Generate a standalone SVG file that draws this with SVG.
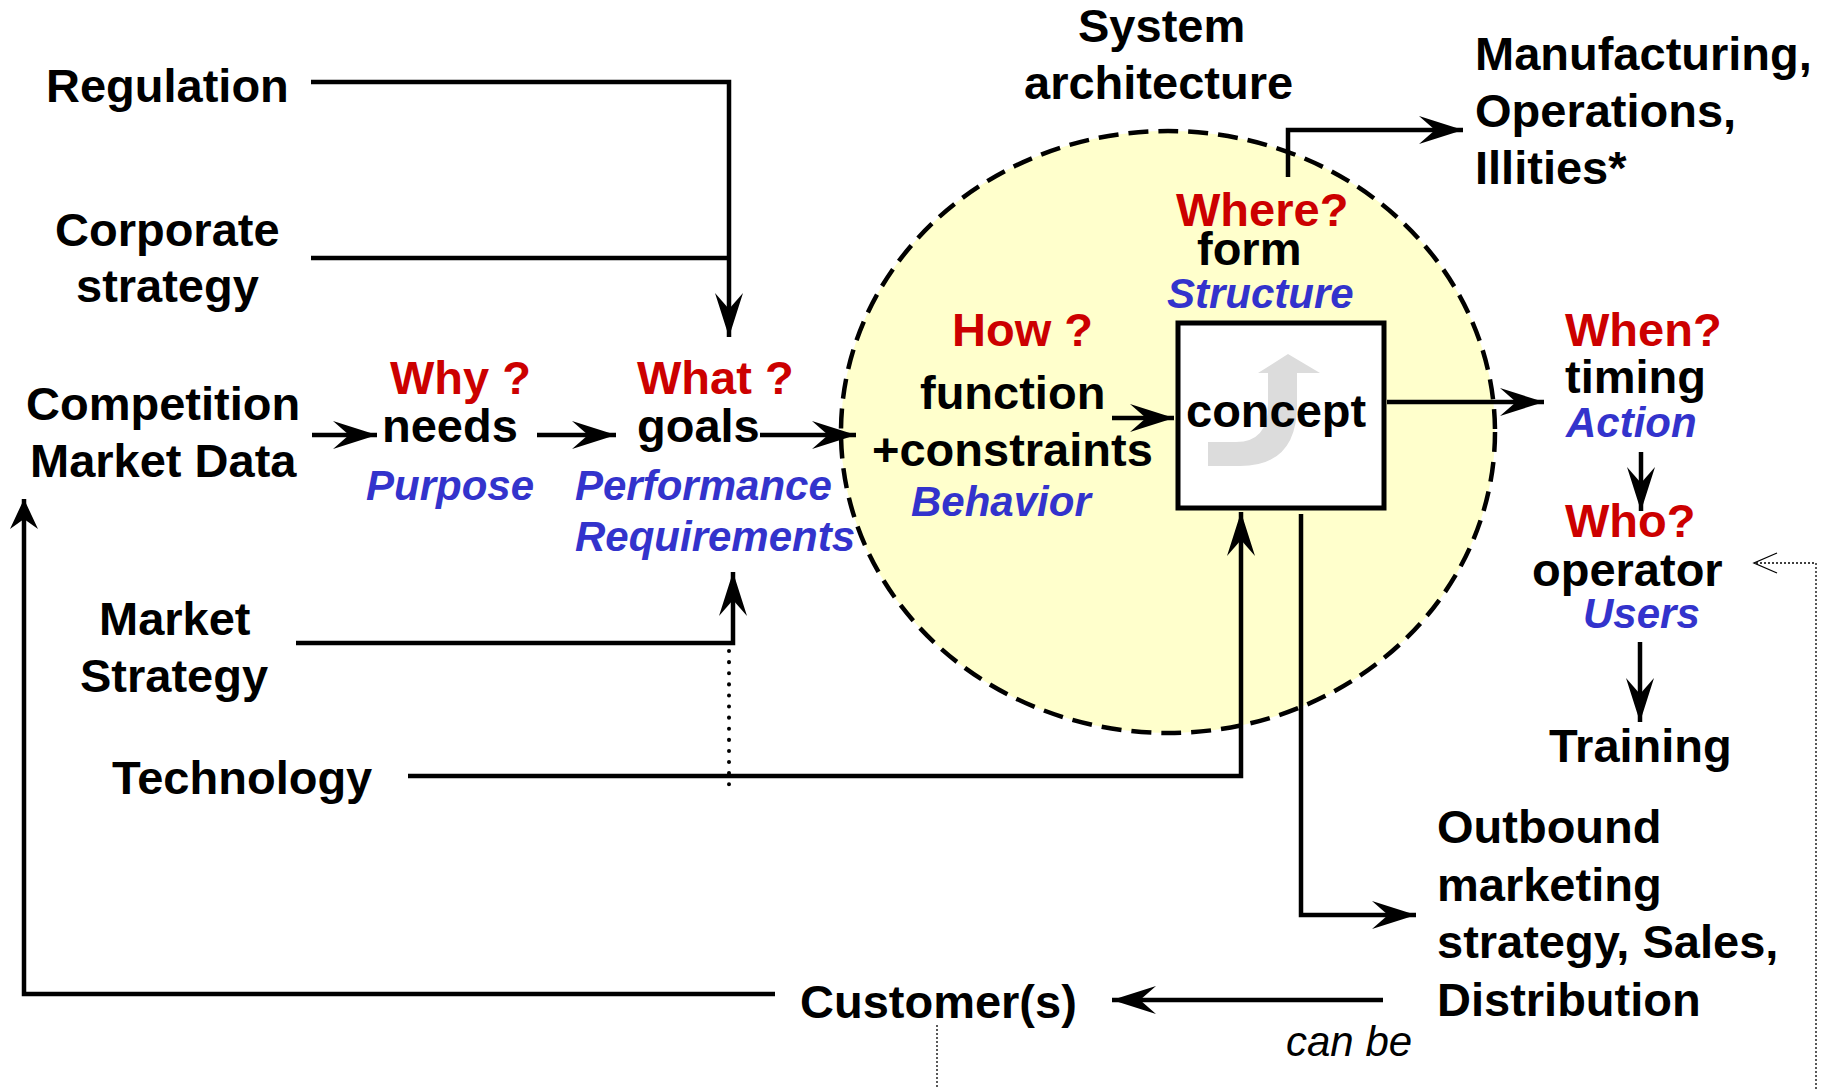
<svg xmlns="http://www.w3.org/2000/svg" width="1825" height="1089" viewBox="0 0 1825 1089">
  <style>
    text { font-family: "Liberation Sans", Arial, sans-serif; }
    .t { font-size: 47px; font-weight: bold; fill: #000; }
    .q { font-size: 47px; font-weight: bold; fill: #cc0000; }
    .b { font-size: 42px; font-weight: bold; font-style: italic; fill: #3333cc; }
    .i { font-size: 42px; font-style: italic; fill: #000; }
    .ln { fill: none; stroke: #000; stroke-width: 4.5; }
    .dot { fill: none; stroke: #000; stroke-width: 4; stroke-dasharray: 0.1 11; stroke-linecap: round; }
    .thin { fill: none; stroke: #000; stroke-width: 1.3; stroke-dasharray: 2 2; }
  </style>
  <defs>
    <marker id="arrow" markerUnits="userSpaceOnUse" markerWidth="50" markerHeight="32" viewBox="-46 -16 48 32" refX="0" refY="0" orient="auto">
      <path d="M0,0 L-44,-14 L-28,0 L-44,14 Z" fill="#000"/>
    </marker>
    <marker id="arrowShort" markerUnits="userSpaceOnUse" markerWidth="34" markerHeight="30" viewBox="-31 -15 33 30" refX="0" refY="0" orient="auto">
      <path d="M0,0 L-30,-14 L-20,0 L-30,14 Z" fill="#000"/>
    </marker>
  </defs>
  <rect width="1825" height="1089" fill="#fff"/>

  <!-- system architecture boundary -->
  <g id="system-boundary">
    <ellipse cx="1168" cy="432" rx="327" ry="301" fill="#ffffcc" stroke="#000" stroke-width="4.5" stroke-dasharray="20 10"/>
  </g>

  <!-- connectors -->
  <g id="connectors">
    <path class="ln" d="M311,82 H729 V337" marker-end="url(#arrow)"/>
    <path class="ln" d="M311,258 H729"/>
    <path class="ln" d="M312,435 H377" marker-end="url(#arrow)"/>
    <path class="ln" d="M537,435 H616" marker-end="url(#arrow)"/>
    <path class="ln" d="M760,435 H856" marker-end="url(#arrow)"/>
    <path class="ln" d="M296,643 H733 V572" marker-end="url(#arrow)"/>
    <path class="dot" d="M729,651 V787"/>
    <path class="ln" d="M408,776 H1241 V512" marker-end="url(#arrow)"/>
    <path class="ln" d="M1112,418 H1174" marker-end="url(#arrow)"/>
    <path class="ln" d="M1387,402 H1544" marker-end="url(#arrow)"/>
    <path class="ln" d="M1288,177 V130 H1463" marker-end="url(#arrow)"/>
    <path class="ln" d="M1641,452 V511" marker-end="url(#arrow)"/>
    <path class="ln" d="M1640,642 V722" marker-end="url(#arrow)"/>
    <path class="ln" d="M1301,514 V915 H1416" marker-end="url(#arrow)"/>
    <path class="ln" d="M1383,1000 H1112" marker-end="url(#arrow)"/>
    <path class="ln" d="M775,994 H24 V499" marker-end="url(#arrowShort)"/>
    <path class="thin" d="M937,1025 V1089"/>
    <path class="thin" d="M1816,1089 V563 H1754"/>
    <path d="M1777,553 L1754,563 L1777,573" fill="none" stroke="#000" stroke-width="1.3"/>
  </g>

  <!-- input nodes -->
  <g id="regulation"><text class="t" x="46" y="102">Regulation</text></g>
  <g id="corporate-strategy">
    <text class="t" x="55" y="246">Corporate</text>
    <text class="t" x="76" y="302">strategy</text>
  </g>
  <g id="competition">
    <text class="t" x="26" y="420">Competition</text>
    <text class="t" x="30" y="477">Market Data</text>
  </g>
  <g id="market-strategy">
    <text class="t" x="99" y="635">Market</text>
    <text class="t" x="80" y="692">Strategy</text>
  </g>
  <g id="technology"><text class="t" x="112" y="794">Technology</text></g>

  <g id="needs">
    <text class="q" x="390" y="394">Why ?</text>
    <text class="t" x="382" y="442">needs</text>
    <text class="b" x="366" y="500">Purpose</text>
  </g>
  <g id="goals">
    <text class="q" x="637" y="394">What ?</text>
    <text class="t" x="637" y="442">goals</text>
    <text class="b" x="575" y="500">Performance</text>
    <text class="b" x="575" y="551">Requirements</text>
  </g>

  <g id="system-architecture">
    <text class="t" x="1078" y="42">System</text>
    <text class="t" x="1024" y="99">architecture</text>
  </g>
  <g id="function">
    <text class="q" x="952" y="346">How ?</text>
    <text class="t" x="920" y="409">function</text>
    <text class="t" x="872" y="466">+constraints</text>
    <text class="b" x="911" y="516">Behavior</text>
  </g>
  <g id="form">
    <text class="q" x="1176" y="226">Where?</text>
    <text class="t" x="1197" y="265">form</text>
    <text class="b" x="1167" y="308">Structure</text>
  </g>
  <g id="concept">
    <rect x="1178" y="323" width="206" height="185" fill="#fff" stroke="#000" stroke-width="5"/>
    <path d="M1297,373 V405 Q1297,466 1240,466 H1208 V442 H1236 Q1268,442 1268,405 V373 H1258 L1288,354 L1320,373 Z" fill="#dcdcdc"/>
    <text class="t" x="1186" y="427">concept</text>
  </g>

  <g id="manufacturing">
    <text class="t" x="1475" y="70">Manufacturing,</text>
    <text class="t" x="1475" y="127">Operations,</text>
    <text class="t" x="1475" y="184">Illities*</text>
  </g>
  <g id="timing">
    <text class="q" x="1565" y="346">When?</text>
    <text class="t" x="1565" y="393">timing</text>
    <text class="b" x="1566" y="437">Action</text>
  </g>
  <g id="operator">
    <text class="q" x="1565" y="537">Who?</text>
    <text class="t" x="1532" y="586">operator</text>
    <text class="b" x="1583" y="628">Users</text>
  </g>
  <g id="training"><text class="t" x="1549" y="762">Training</text></g>
  <g id="outbound">
    <text class="t" x="1437" y="843">Outbound</text>
    <text class="t" x="1437" y="901">marketing</text>
    <text class="t" x="1437" y="958">strategy, Sales,</text>
    <text class="t" x="1437" y="1016">Distribution</text>
  </g>
  <g id="customers"><text class="t" x="800" y="1018">Customer(s)</text></g>
  <g id="can-be-label"><text class="i" x="1286" y="1056">can be</text></g>
</svg>
